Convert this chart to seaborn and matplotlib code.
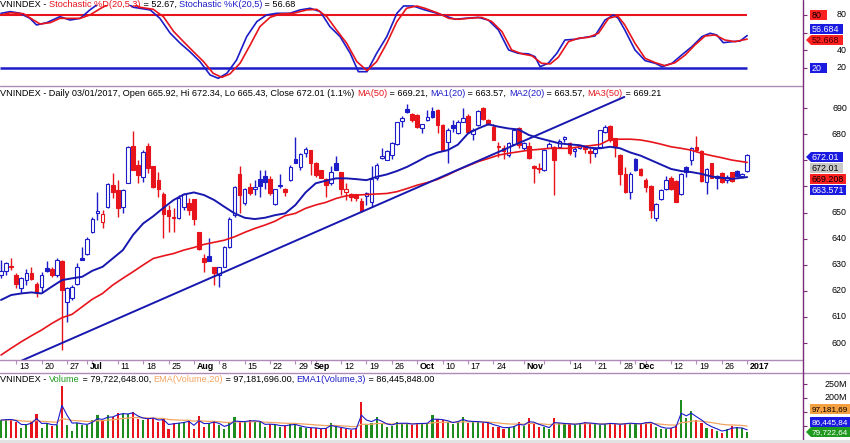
import matplotlib
matplotlib.use("Agg")
import matplotlib.pyplot as plt
from matplotlib.lines import Line2D
from matplotlib.patches import Polygon, Rectangle
import numpy as np
import pandas as pd
import seaborn as sns

# ---------------- data (trading-day index 0 = 8 Jun 2016 ... 147 = 3 Jan 2017) ----------------
day = list(range(148))
open_ = [626.0, 627.7, 629.5, 626.0, 620.9, 624.1, 626.7, 622.5, 621.6, 628.6,
         628.3, 626.0, 631.5, 615.8, 617.1, 622.8, 632.7, 634.0, 642.6, 650.0,
         646.2, 652.2, 660.5, 658.6, 652.2, 661.5, 675.6, 668.2, 663.7, 675.6,
         667.8, 662.4, 657.1, 650.9, 648.4, 647.8, 652.2, 653.5, 655.0, 642.6,
         632.7, 633.3, 629.2, 626.0, 629.2, 636.9, 649.0, 664.7, 653.5, 659.8,
         659.0, 663.0, 664.0, 662.7, 653.1, 660.3, 658.9, 662.4, 670.4, 667.5,
         672.7, 673.9, 669.1, 666.3, 662.7, 661.5, 668.8, 665.6, 658.0, 657.1,
         657.0, 654.4, 656.3, 654.0, 663.1, 671.0, 670.1, 672.0, 676.1, 685.0,
         689.6, 687.6, 687.3, 682.2, 685.4, 688.9, 689.3, 683.5, 677.1, 683.5,
         680.3, 684.8, 687.1, 680.0, 683.5, 689.9, 685.4, 682.9, 675.6, 674.6,
         672.0, 676.1, 682.2, 674.8, 675.6, 667.9, 667.0, 666.3, 674.8, 675.2,
         675.0, 678.1, 676.7, 673.7, 674.8, 675.2, 673.7, 672.7, 675.2, 680.7,
         683.3, 678.4, 672.0, 664.7, 658.0, 670.5, 666.7, 662.4, 660.3, 648.0,
         655.0, 658.9, 663.1, 662.0, 657.0, 667.5, 670.1, 675.0, 673.5, 661.8,
         668.8, 663.1, 665.2, 662.4, 665.4, 666.0, 663.9, 665.92]
high = [631.8, 631.1, 632.7, 626.7, 625.4, 628.3, 629.2, 623.5, 627.3, 631.4,
        629.2, 632.4, 631.8, 621.6, 622.2, 630.5, 636.9, 640.7, 648.4, 657.7,
        650.9, 661.2, 665.0, 662.4, 659.2, 675.6, 681.2, 670.1, 673.9, 676.5,
        668.0, 665.4, 658.0, 652.8, 651.6, 656.7, 657.3, 655.4, 655.0, 642.6,
        634.0, 640.3, 629.2, 629.2, 637.3, 648.4, 660.3, 667.8, 659.5, 661.2,
        662.4, 666.3, 666.3, 664.1, 659.2, 664.7, 659.5, 668.2, 679.0, 672.7,
        675.2, 673.9, 669.5, 666.3, 663.1, 667.8, 671.6, 665.6, 661.2, 657.3,
        657.0, 655.4, 658.0, 668.0, 668.8, 674.6, 673.9, 677.1, 684.8, 687.1,
        691.4, 688.0, 687.6, 684.1, 689.3, 690.5, 689.6, 683.8, 682.2, 685.4,
        685.4, 689.9, 687.6, 682.2, 689.3, 690.4, 685.8, 684.1, 676.9, 675.8,
        676.9, 682.2, 682.9, 676.9, 677.1, 668.2, 668.8, 674.3, 676.9, 675.6,
        678.0, 679.4, 677.1, 675.2, 675.6, 675.8, 674.6, 674.8, 681.8, 683.5,
        683.5, 678.4, 672.3, 667.5, 665.4, 670.8, 666.9, 663.1, 660.5, 653.5,
        658.9, 664.1, 664.1, 662.4, 665.0, 667.8, 675.2, 679.4, 673.9, 666.9,
        669.1, 664.4, 665.4, 664.4, 665.6, 666.3, 665.1, 672.34]
low = [625.0, 626.0, 628.0, 621.0, 619.0, 622.2, 624.1, 617.7, 619.7, 627.3,
       625.4, 625.4, 597.3, 608.2, 616.5, 622.2, 631.8, 633.7, 642.0, 647.0,
       643.9, 651.6, 655.4, 648.4, 649.7, 661.2, 666.3, 661.2, 661.8, 665.0,
       659.5, 656.0, 640.1, 642.6, 642.6, 647.5, 651.0, 649.0, 645.4, 635.6,
       627.3, 631.3, 622.2, 621.6, 629.0, 636.5, 648.4, 649.7, 652.9, 656.7,
       656.7, 656.0, 659.2, 656.7, 652.9, 659.5, 656.4, 662.0, 668.8, 666.3,
       671.4, 664.4, 663.7, 663.1, 656.0, 660.5, 666.3, 656.7, 654.8, 654.4,
       654.4, 650.3, 652.9, 652.0, 662.4, 670.7, 670.1, 670.7, 675.8, 682.9,
       688.0, 684.8, 682.2, 680.3, 685.0, 686.3, 680.3, 673.5, 668.8, 681.0,
       680.0, 684.5, 680.3, 677.8, 683.2, 685.4, 683.5, 677.8, 671.4, 670.7,
       671.4, 675.8, 674.6, 673.9, 670.7, 661.5, 665.0, 665.9, 674.6, 656.7,
       674.6, 677.1, 672.0, 671.4, 674.3, 672.7, 668.8, 671.4, 674.8, 680.3,
       677.1, 671.4, 660.5, 657.3, 655.2, 666.0, 664.1, 658.0, 647.8, 646.7,
       654.8, 658.6, 658.6, 653.9, 656.7, 663.7, 668.2, 673.3, 661.8, 657.1,
       663.1, 658.9, 661.5, 661.5, 661.8, 663.7, 663.1, 665.43]
close = [627.7, 630.5, 629.0, 622.8, 624.8, 626.7, 624.5, 619.0, 626.0, 627.6,
         626.0, 631.8, 620.3, 620.9, 621.6, 629.2, 631.9, 639.8, 647.7, 650.5,
         649.3, 660.8, 658.0, 651.6, 658.6, 675.2, 666.3, 664.4, 673.3, 667.2,
         659.9, 659.0, 649.3, 648.8, 647.8, 655.7, 657.0, 651.0, 647.7, 636.0,
         630.9, 631.5, 626.7, 629.0, 636.9, 647.7, 659.9, 656.7, 659.0, 657.3,
         659.8, 660.3, 661.8, 657.3, 658.9, 660.5, 658.0, 667.5, 669.1, 672.3,
         674.3, 668.8, 664.4, 663.3, 660.5, 665.6, 666.3, 659.2, 659.0, 656.1,
         655.7, 650.6, 657.6, 663.0, 668.2, 671.6, 673.5, 676.5, 684.5, 686.3,
         688.4, 685.4, 682.9, 683.8, 686.5, 686.7, 683.5, 673.9, 681.6, 682.2,
         684.8, 686.3, 681.0, 681.6, 688.9, 686.0, 683.8, 677.8, 675.0, 673.5,
         676.5, 681.8, 675.8, 676.5, 671.0, 667.2, 666.8, 673.9, 676.1, 670.1,
         677.5, 679.0, 672.7, 674.3, 675.4, 674.4, 673.0, 674.3, 681.6, 682.9,
         677.8, 675.2, 664.7, 657.7, 664.7, 666.2, 664.4, 659.9, 651.0, 653.1,
         658.6, 662.4, 659.0, 653.9, 664.6, 665.6, 674.8, 674.1, 662.2, 666.7,
         663.3, 664.1, 661.8, 663.7, 662.1, 664.0, 664.7, 672.01]
volume_m = [121, 124, 124, 115, 92, 104, 115, 143, 92, 110,
            100, 104, 243, 104, 82, 112, 104, 104, 121, 139,
            121, 139, 133, 148, 148, 142, 151, 124, 121, 124,
            130, 115, 124, 88, 110, 112, 115, 121, 88, 136,
            98, 110, 119, 104, 88, 110, 131, 115, 115, 121,
            119, 115, 95, 107, 104, 98, 100, 107, 107, 95,
            92, 92, 92, 88, 92, 112, 95, 92, 88, 86,
            92, 187, 104, 110, 133, 110, 98, 100, 115, 110,
            110, 104, 110, 110, 110, 139, 124, 121, 115, 106,
            119, 131, 112, 115, 115, 112, 110, 98, 95, 88,
            95, 100, 115, 100, 127, 112, 98, 95, 88, 130,
            110, 107, 107, 104, 110, 115, 110, 107, 104, 107,
            112, 107, 104, 110, 112, 107, 107, 115, 115, 98,
            88, 88, 92, 104, 193, 127, 155, 121, 110, 92,
            88, 83, 74, 88, 100, 95, 92, 79.72]

ma_day = list(range(0, 145, 2)) + [147]
ma20 = [616.5, 618.4, 619.0, 619.4, 619.0, 621.6, 624.1, 624.8, 625.4, 627.7,
        629.2, 632.4, 635.6, 641.4, 645.8, 648.6, 651.8, 654.8, 656.9, 657.7,
        656.7, 654.8, 652.2, 649.7, 648.0, 647.5, 648.0, 649.0, 649.7, 652.9,
        657.7, 661.2, 662.2, 663.1, 663.1, 662.8, 662.4, 663.7, 664.6, 665.9,
        667.5, 669.5, 671.6, 673.0, 673.9, 676.0, 680.3, 682.2, 683.8, 682.9,
        682.2, 681.8, 679.7, 678.5, 677.5, 676.5, 676.1, 675.8, 674.8, 674.6,
        675.2, 674.6, 673.0, 671.8, 670.1, 668.4, 666.7, 665.9, 665.5, 664.8,
        663.8, 663.3, 662.9, 663.57]
ma50 = [595.4, 598.0, 600.5, 602.8, 605.0, 607.5, 609.7, 611.0, 613.9, 616.8,
        619.0, 622.2, 624.8, 627.3, 629.9, 632.4, 633.4, 634.3, 635.6, 636.6,
        637.8, 638.6, 639.4, 640.7, 642.4, 643.9, 645.2, 646.7, 648.8, 649.7,
        651.6, 652.9, 653.9, 655.4, 656.4, 656.7, 656.9, 657.1, 657.3, 658.0,
        659.2, 660.5, 661.5, 662.7, 664.4, 666.3, 667.9, 669.5, 670.7, 672.0,
        672.7, 673.3, 673.9, 674.2, 674.6, 674.6, 674.6, 675.2, 675.6, 676.1,
        678.0, 678.1, 678.1, 677.8, 677.1, 676.2, 675.2, 674.6, 673.9, 672.7,
        671.8, 671.0, 670.1, 669.21]

k_day = [0, 1.8, 3.7, 5.7, 7.0, 9.0, 11.6, 13.6, 15.6, 17.5,
         19.5, 21.5, 24.0, 26.1, 29.4, 31.3, 33.3, 35.3, 37.2, 39.2,
         41.2, 42.8, 44.5, 46.4, 48.4, 50.4, 52.3, 54.3, 56.9, 58.9,
         60.9, 62.9, 64.8, 66.8, 68.8, 70.4, 72.1, 74.0, 76.0, 78.0,
         79.3, 81.2, 83.5, 85.5, 87.5, 89.5, 91.4, 94.0, 96.0, 98.0,
         100.0, 101.9, 103.9, 105.2, 106.2, 107.8, 109.5, 111.1, 113.1, 115.1,
         117.0, 119.0, 120.7, 121.6, 122.9, 124.9, 126.9, 128.9, 130.2, 132.2,
         134.1, 136.1, 138.1, 139.7, 141.0, 142.3, 144.0, 145.6, 147.0]
stoch_k = [81.9, 83.8, 82.0, 76.2, 68.7, 71.3, 78.1, 74.3, 76.2, 85.7,
           94.0, 97.0, 96.0, 88.7, 85.7, 76.2, 59.6, 48.0, 38.5, 27.2,
           12.1, 8.3, 14.0, 29.0, 55.5, 72.5, 80.0, 81.9, 81.9, 85.7,
           87.6, 83.8, 66.8, 55.5, 36.6, 15.8, 15.8, 36.6, 55.5, 81.9,
           90.2, 90.2, 85.7, 82.6, 78.9, 75.1, 76.2, 77.3, 74.3, 63.0,
           40.4, 36.6, 36.0, 32.8, 21.5, 25.3, 36.6, 51.7, 52.5, 54.7,
           56.2, 74.3, 80.0, 76.2, 63.0, 40.4, 28.3, 25.3, 21.5, 25.3,
           34.7, 44.1, 55.5, 59.3, 57.4, 48.6, 49.8, 50.5, 56.68]
d_day = [0, 1.8, 4.4, 6.4, 7.7, 9.7, 11.6, 13.6, 15.6, 17.5,
         19.5, 22.0, 25.0, 27.4, 30.0, 32.0, 34.0, 35.9, 37.9, 39.9,
         41.8, 43.5, 45.1, 47.1, 49.1, 51.0, 53.0, 55.0, 57.6, 60.2,
         62.2, 64.2, 66.1, 68.1, 70.1, 72.1, 74.0, 76.0, 78.0, 79.9,
         81.9, 83.5, 86.2, 88.2, 90.1, 92.1, 94.7, 96.7, 98.7, 100.6,
         102.6, 104.6, 106.5, 108.2, 109.8, 111.8, 113.7, 115.7, 117.7, 119.7,
         121.5, 122.9, 124.9, 126.9, 128.9, 130.8, 132.8, 134.8, 136.7, 138.7,
         140.7, 142.6, 144.6, 147.0]
stoch_d = [80.0, 82.5, 81.5, 74.3, 69.8, 71.3, 76.2, 76.2, 76.2, 80.0,
           87.0, 95.0, 95.0, 88.7, 86.4, 78.0, 61.4, 50.1, 38.5, 27.2,
           14.0, 9.4, 13.3, 25.4, 46.2, 66.8, 77.3, 81.1, 81.9, 85.7,
           86.4, 78.0, 63.0, 48.0, 27.2, 17.0, 27.2, 48.0, 72.5, 87.6,
           90.2, 87.6, 81.9, 76.2, 75.1, 76.2, 77.3, 72.5, 61.1, 40.4,
           36.0, 33.8, 25.3, 24.6, 32.1, 49.8, 53.6, 54.7, 59.3, 76.2,
           78.9, 68.7, 48.0, 30.9, 26.0, 22.6, 26.0, 34.7, 46.0, 56.2,
           57.4, 51.7, 49.8, 52.67]

trend_day = [0, 122.8]
trend_val = [589.8, 694.3]

tick_day = [3, 8, 13, 17, 23, 28, 33, 38, 43, 48, 53, 58, 61, 67, 72, 77, 82,
            87, 92, 97, 103, 112, 117, 122, 125, 132, 137, 142, 147]
tick_lab = ['13', '20', '27', 'Jul', '11', '18', '25', 'Aug', '8', '15', '22', '29',
            'Sep', '12', '19', '26', 'Oct', '10', '17', '24', 'Nov', '14', '21', '28',
            'Dec', '12', '19', '26', '2017']
minor_day = [18, 62, 107, 127]

price_ticks = [600, 610, 620, 630, 640, 650, 660, 670, 680, 690]
price_labeled = [600, 610, 620, 630, 640, 650, 680, 690]
stoch_ticks = [20, 40, 60, 80]
stoch_labeled = [20, 40, 80]
vol_ticks = [100, 150, 200, 250]
vol_labeled = [200, 250]
vol_tick_lab = ['200M', '250M']

# ---------------- style ----------------
W, H = 850, 443
sns.set_theme(style="white")
plt.rcParams['font.family'] = ['Liberation Sans', 'DejaVu Sans']
FS = 6.4      # right-hand labels and date labels
FT = 6.6      # panel titles
RED = '#e8141c'
BLUE = '#1c1cc8'
MABLUE = '#1818b0'
GREEN = '#1e8c1e'
ORANGE = '#f2a462'
PUR = '#7a2c7a'
LAV = '#b08ab8'

fig = plt.figure(figsize=(W / 100, H / 100), dpi=100)
fig.patch.set_facecolor('white')

def fpt(x, y):
    return (x / W, 1 - y / H)

ax_s = fig.add_axes([0, 1 - 86 / H, 803 / W, 81 / H])
ax_p = fig.add_axes([0, 1 - 360 / H, 803 / W, 273 / H])
ax_v = fig.add_axes([0, 1 - 438 / H, 803 / W, 65 / H])
for ax in (ax_s, ax_p, ax_v):
    ax.set_facecolor('white')
    for sp in ax.spines.values():
        sp.set_visible(False)
    ax.grid(False)

df = pd.DataFrame(dict(day=day, open=open_, high=high, low=low, close=close, vol=volume_m))
prev = df['close'].shift(1).fillna(df['open'])
up_day = (df['close'] >= prev).to_numpy()
filled = (df['close'] < df['open']).to_numpy()
col = np.where(up_day, BLUE, RED)
face = np.where(filled, col, 'white')

# ---- price panel ----
ax_p.vlines(df['day'], df['low'], df['high'], colors=col, lw=1.0, zorder=2)
body_lo = np.minimum(df['open'], df['close'])
body_h = np.maximum(np.abs(df['close'] - df['open']), 0.3)
ax_p.bar(df['day'], body_h, bottom=body_lo, width=0.72, color=face, edgecolor=col,
         linewidth=0.8, zorder=3)
sns.lineplot(x=ma_day, y=ma50, ax=ax_p, color=RED, linewidth=1.2, zorder=4)
sns.lineplot(x=ma_day, y=ma20, ax=ax_p, color=MABLUE, linewidth=1.4, zorder=4)
sns.lineplot(x=trend_day, y=trend_val, ax=ax_p, color=MABLUE, linewidth=1.4, zorder=4)
ax_p.set_xlim(-0.2, 158.0)
ax_p.set_ylim(593.5, 698.1)
ax_p.set_xlabel('')
ax_p.set_ylabel('')

# ---- stochastic panel ----
ax_s.hlines(80, -0.2, 147, color=RED, lw=1.5, zorder=2)
ax_s.hlines(20, -0.2, 147, color=BLUE, lw=1.8, zorder=2)
sns.lineplot(x=k_day, y=stoch_k, ax=ax_s, color=BLUE, linewidth=1.2, zorder=3)
sns.lineplot(x=d_day, y=stoch_d, ax=ax_s, color=RED, linewidth=1.2, zorder=3)
ax_s.set_xlim(-0.2, 158.0)
ax_s.set_ylim(-0.4, 91.3)
ax_s.set_xlabel('')
ax_s.set_ylabel('')

# ---- volume panel ----
vcol = np.where(up_day, GREEN, RED)
ax_v.bar(df['day'], df['vol'], width=0.42, color=vcol, zorder=2, linewidth=0)
ema20 = df['vol'].ewm(span=20, adjust=False).mean()
ema3 = df['vol'].ewm(span=3, adjust=False).mean()
sns.lineplot(x=df['day'], y=ema20, ax=ax_v, color=ORANGE, linewidth=0.9, zorder=3)
sns.lineplot(x=df['day'], y=ema3, ax=ax_v, color=BLUE, linewidth=0.8, zorder=3)
ax_v.set_xlim(-0.2, 158.0)
ax_v.set_ylim(57.1, 289.3)
ax_v.set_xlabel('')
ax_v.set_ylabel('')

# ---- ticks ----
for ax, tk in ((ax_s, stoch_ticks), (ax_p, price_ticks), (ax_v, vol_ticks)):
    ax.set_yticks(tk)
    ax.yaxis.tick_right()
    ax.tick_params(axis='y', which='both', right=True, left=False, labelright=False,
                   labelleft=False, length=3, width=0.8, color=PUR, direction='out')
ax_s.set_xticks([])
ax_v.set_xticks([])
ax_p.set_xticks(tick_day)
ax_p.set_xticks(minor_day, minor=True)
ax_p.tick_params(axis='x', which='both', bottom=True, labelbottom=False, length=3,
                 width=0.8, color=LAV, direction='out')
months = {'Jul', 'Aug', 'Sep', 'Oct', 'Nov', 'Dec', '2017'}
for d, lab in zip(tick_day, tick_lab):
    ax_p.annotate(lab, xy=(d, 0), xycoords=('data', 'axes fraction'), xytext=(2, -1.2),
                  textcoords='offset points', ha='left', va='top', fontsize=FS,
                  fontweight='bold' if lab in months else 'normal', color='black',
                  annotation_clip=False)

def right_labels(ax, vals, texts):
    for v, t in zip(vals, texts):
        ax.annotate(t, xy=(847 / 803, v), xycoords=('axes fraction', 'data'), ha='right',
                    va='center', fontsize=FS, color='black', annotation_clip=False)

right_labels(ax_s, stoch_labeled, [str(v) for v in stoch_labeled])
right_labels(ax_p, price_labeled, [str(v) for v in price_labeled])
right_labels(ax_v, vol_labeled, vol_tick_lab)

# ---- frame lines ----
def fline(x0, y0, x1, y1, c, lw=1.0):
    fig.add_artist(Line2D([x0 / W, x1 / W], [1 - y0 / H, 1 - y1 / H],
                          transform=fig.transFigure, color=c, lw=lw, zorder=4))

fline(0, 86, 803, 86, LAV)
fline(0, 360, 803, 360, LAV)
fline(0, 373, 850, 373, LAV)
fline(803, 0, 803, 443, PUR)
fig.add_artist(Rectangle(fpt(0, 443), 850 / W, 3.5 / H, transform=fig.transFigure,
                         fc='#e2e2e2', ec='none', zorder=4))

# ---- value boxes on the right ----
def label_box(x0, x1, yc, text, fc, tc, arrow=False, h=10, fs=FS):
    y0, y1 = yc - h / 2, yc + h / 2
    if arrow:
        pts = [(x0, yc), (x0 + 5, y0), (x1, y0), (x1, y1), (x0 + 5, y1)]
        tx = x0 + 5.5
    else:
        pts = [(x0, y0), (x1, y0), (x1, y1), (x0, y1)]
        tx = x0 + 1.5
    fig.add_artist(Polygon([fpt(*p) for p in pts], closed=True, transform=fig.transFigure,
                           fc=fc, ec='none', zorder=6))
    fig.text(*fpt(tx, yc + 0.3), text, color=tc, fontsize=fs, ha='left', va='center',
             zorder=7)

label_box(810, 827, 15, '80', '#ff2020', 'black')
label_box(810, 843, 29, '56.684', '#1a1ae0', 'white')
label_box(806, 843, 40, '52.668', '#ff2020', '#400000', arrow=True)
label_box(810, 827, 68, '20', '#1a1ae0', 'white')
label_box(806, 843, 157, '672.01', '#1a1ae0', 'white', arrow=True)
label_box(810, 843, 168, '672.01', '#c8c8c8', 'black')
label_box(810, 846, 179, '669.208', '#ff2020', 'black')
label_box(810, 846, 190, '663.571', '#1a1ae0', 'white')
# the reference shows these three values cut by the right edge of the picture
label_box(810, 852, 409, '97,181,69', '#f4a040', 'black', fs=5.9)
label_box(810, 852, 422, '86,445,84', '#1a1ae0', 'white', fs=5.9)
label_box(806, 852, 432, '79,722,64', '#1e9a1e', 'white', arrow=True, fs=5.9)

# ---- multi-coloured titles ----
renderer = fig.canvas.get_renderer()

def text_w(s):
    t = fig.text(0, 0, s, fontsize=FT)
    w = t.get_window_extent(renderer).width
    t.remove()
    return w

def rich(x0, y0, parts):
    bar = text_w('|')
    prefix = ''
    for s, c in parts:
        x = x0 + (text_w(prefix + '|') - bar if prefix else 0)
        fig.text(*fpt(x, y0), s, color=c, fontsize=FT, ha='left', va='baseline', zorder=8)
        prefix += s

rich(0.5, 7.2, [('VNINDEX - ', 'black'), ('Stochastic %D(20,5,3)', RED), (' = 52.67, ', 'black'),
                ('Stochastic %K(20,5)', BLUE), (' = 56.68', 'black')])
rich(0, 95.5, [('VNINDEX - Daily 03/01/2017, Open 665.92, Hi 672.34, Lo 665.43, Close 672.01 (1.1%) ', 'black'),
               ('MA(50)', RED), (' = 669.21, ', 'black'), ('MA1(20)', BLUE), (' = 663.57, ', 'black'),
               ('MA2(20)', BLUE), (' = 663.57, ', 'black'), ('MA3(50)', RED), (' = 669.21', 'black')])
rich(0, 382, [('VNINDEX - ', 'black'), ('Volume', '#1e9a1e'), (' = 79,722,648.00, ', 'black'),
              ('EMA(Volume,20)', ORANGE), (' = 97,181,696.00, ', 'black'),
              ('EMA1(Volume,3)', BLUE), (' = 86,445,848.00', 'black')])

fig.savefig('out.png', dpi=100, facecolor='white')
